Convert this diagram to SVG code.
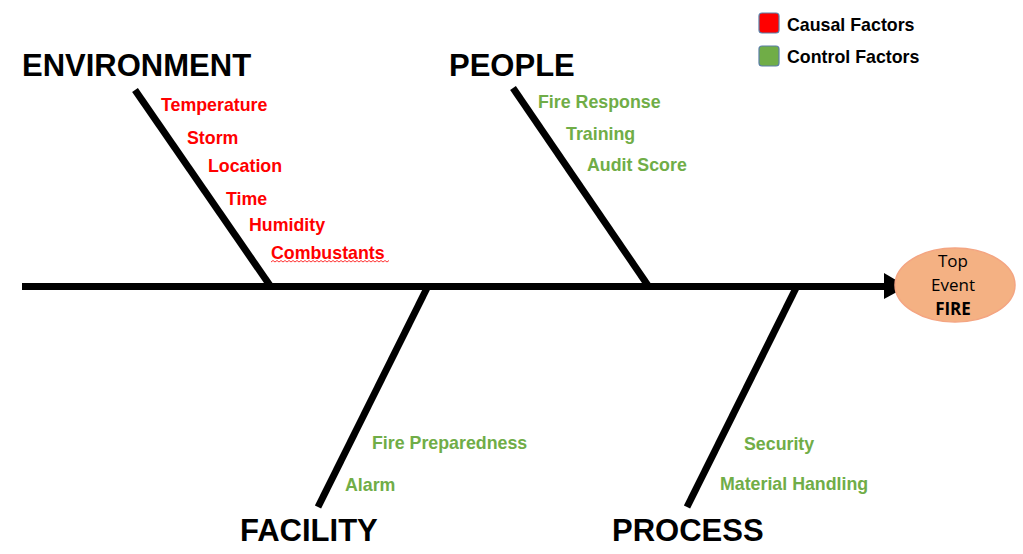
<svg xmlns="http://www.w3.org/2000/svg" width="1023" height="554" viewBox="0 0 1023 554">
<style>
.bone{stroke:#000;stroke-width:7;fill:none;stroke-linecap:butt}
.cat{font-family:"Liberation Sans",Arial,sans-serif;font-weight:bold;font-size:31px;fill:#000}
.red{font-family:"Liberation Sans",Arial,sans-serif;font-weight:bold;font-size:17.8px;fill:#FF0000}
.grn{font-family:"Liberation Sans",Arial,sans-serif;font-weight:bold;font-size:17.8px;fill:#70AD47}
.leg{font-family:"Liberation Sans",Arial,sans-serif;font-weight:bold;font-size:17.8px;fill:#000}
.ev{font-family:"Open Sans","Liberation Sans",sans-serif;font-size:17px;fill:#000;text-anchor:middle}
</style>
<rect width="1023" height="554" fill="#fff"/>
<g id="connectors">
<line class="bone" x1="22" y1="286.5" x2="886" y2="286.5"/>
<polygon points="884,273 907,286.5 884,299" fill="#000"/>
<line class="bone" x1="135" y1="90" x2="271" y2="287"/>
<line class="bone" x1="513" y1="88" x2="649" y2="287"/>
<line class="bone" x1="428" y1="286" x2="318" y2="507"/>
<line class="bone" x1="797" y1="286" x2="687" y2="507"/>
</g>
<g id="top-event">
<ellipse cx="955" cy="285" rx="60" ry="37" fill="#F4B183" stroke="#F4A582" stroke-width="1.5"/>
<text class="ev" x="953" y="267">Top</text>
<text class="ev" x="953" y="291">Event</text>
<text class="ev" x="953" y="315" font-weight="bold">FIRE</text>
</g>
<g id="environment">
<text class="cat" x="22" y="76">ENVIRONMENT</text>
<text class="red" x="161" y="111">Temperature</text>
<text class="red" x="187" y="144">Storm</text>
<text class="red" x="208" y="172">Location</text>
<text class="red" x="226" y="205">Time</text>
<text class="red" x="249" y="231">Humidity</text>
<text class="red" x="271" y="259">Combustants</text>
<path d="M271,262 l2,-1.5 l2,1.5 l2,-1.5 l2,1.5 l2,-1.5 l2,1.5 l2,-1.5 l2,1.5 l2,-1.5 l2,1.5 l2,-1.5 l2,1.5 l2,-1.5 l2,1.5 l2,-1.5 l2,1.5 l2,-1.5 l2,1.5 l2,-1.5 l2,1.5 l2,-1.5 l2,1.5 l2,-1.5 l2,1.5 l2,-1.5 l2,1.5 l2,-1.5 l2,1.5 l2,-1.5 l2,1.5 l2,-1.5 l2,1.5 l2,-1.5 l2,1.5 l2,-1.5 l2,1.5 l2,-1.5 l2,1.5 l2,-1.5 l2,1.5 l2,-1.5 l2,1.5 l2,-1.5 l2,1.5 l2,-1.5 l2,1.5 l2,-1.5 l2,1.5 l2,-1.5 l2,1.5 l2,-1.5 l2,1.5 l2,-1.5 l2,1.5 l2,-1.5 l2,1.5 l2,-1.5 l2,1.5 l2,-1.5" fill="none" stroke="#FF0000" stroke-width="0.8"/>
</g>
<g id="people">
<text class="cat" x="449" y="76">PEOPLE</text>
<text class="grn" x="538" y="108">Fire Response</text>
<text class="grn" x="566" y="140">Training</text>
<text class="grn" x="587" y="171">Audit Score</text>
</g>
<g id="facility">
<text class="cat" x="240" y="541">FACILITY</text>
<text class="grn" x="372" y="449">Fire Preparedness</text>
<text class="grn" x="345" y="491">Alarm</text>
</g>
<g id="process">
<text class="cat" x="612" y="541">PROCESS</text>
<text class="grn" x="744" y="450">Security</text>
<text class="grn" x="720" y="490">Material Handling</text>
</g>
<g id="legend">
<rect x="759" y="13" width="20" height="20" rx="3" fill="#FF0000" stroke="#5B7FA6" stroke-width="1.2"/>
<text class="leg" x="787" y="31">Causal Factors</text>
<rect x="759" y="46" width="20" height="20" rx="3" fill="#70AD47" stroke="#5B7FA6" stroke-width="1.2"/>
<text class="leg" x="787" y="63">Control Factors</text>
</g>
</svg>
